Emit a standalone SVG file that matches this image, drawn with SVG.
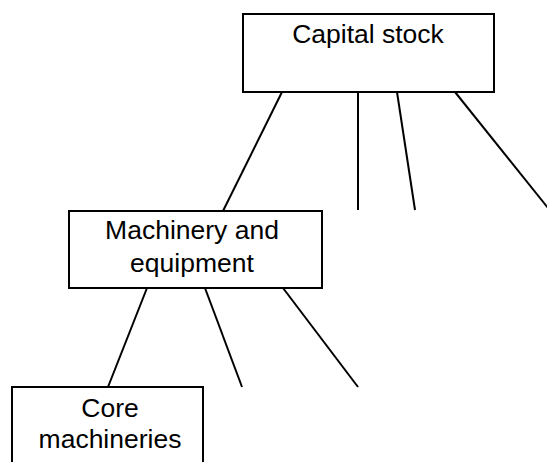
<svg xmlns="http://www.w3.org/2000/svg" width="547" height="462" viewBox="0 0 547 462">
<style>
.box{fill:#fff;stroke:#000;stroke-width:2}
.lbl{font-family:"Liberation Sans",Arial,sans-serif;font-size:26.5px;fill:#000;text-anchor:middle}
.con line{stroke:#000;stroke-width:2;stroke-linecap:butt}
</style>
<rect width="547" height="462" fill="#fff"/>
<g id="connectors" class="con">
<line x1="282" y1="92" x2="223" y2="211"/>
<line x1="358" y1="92" x2="358" y2="210"/>
<line x1="397" y1="92" x2="415" y2="210"/>
<line x1="455" y1="92" x2="548" y2="208"/>
<line x1="147" y1="288" x2="108" y2="387"/>
<line x1="205" y1="288" x2="242" y2="387"/>
<line x1="283" y1="288" x2="358" y2="387"/>
</g>
<g id="capital-stock">
<rect class="box" x="243" y="14" width="251" height="78"/>
<text class="lbl" x="368" y="43">Capital stock</text>
</g>
<g id="machinery-equipment">
<rect class="box" x="69" y="211" width="253" height="77"/>
<text class="lbl" x="192" y="239">Machinery and</text>
<text class="lbl" x="192" y="272">equipment</text>
</g>
<g id="core-machineries">
<rect class="box" x="12" y="387" width="191" height="90"/>
<text class="lbl" x="110" y="417">Core</text>
<text class="lbl" x="110" y="448">machineries</text>
</g>
</svg>
